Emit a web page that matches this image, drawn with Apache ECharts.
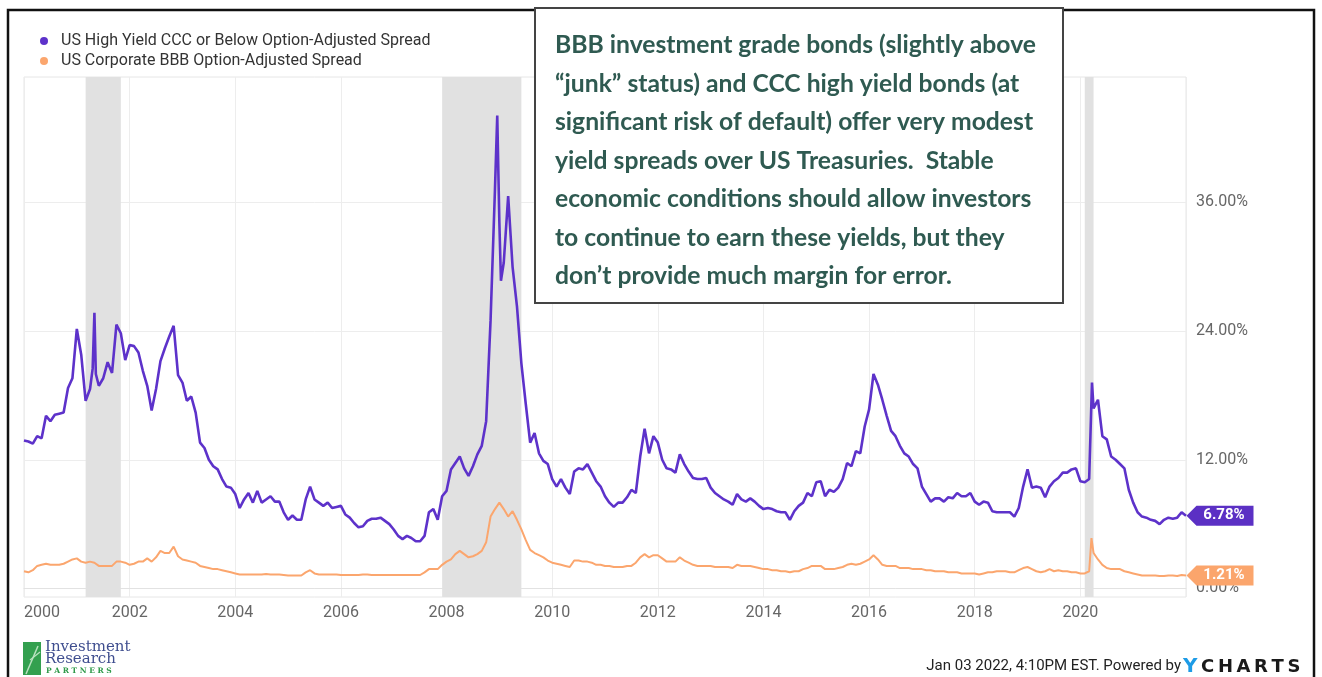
<!DOCTYPE html>
<html>
<head>
<meta charset="utf-8">
<title>US High Yield CCC vs US Corporate BBB Option-Adjusted Spread</title>
<script src="https://cdn.jsdelivr.net/npm/echarts@6/dist/echarts.min.js"></script>
<style>
  html, body { margin: 0; padding: 0; background: #fff; }
  #chart { width: 1322px; height: 677px; }
</style>
</head>
<body>
<div id="chart"></div>
<script>
// month-start readings (percent), Jan 2000 .. Jan 2022
const firstYear = 2000

const cccSpread = [
  13.8, 13.7, 13.5, 14.2, 14.0, 16.1, 15.6, 16.2, 16.3, 16.4, 18.7, 19.6, // 2000
  24.2, 21.8, 17.5, 18.6, 25.7, 18.9, 19.6, 21.1, 20.1, 24.6, 23.8, 21.3, // 2001
  22.7, 22.6, 22.0, 20.3, 18.9, 16.6, 18.6, 21.2, 22.4, 23.5, 24.5, 19.9, // 2002
  19.2, 17.5, 17.9, 16.4, 13.6, 13.1, 12.0, 11.4, 11.1, 10.2, 9.5, 9.4,   // 2003
  8.8, 7.5, 8.3, 8.9, 8.0, 9.1, 8.0, 8.3, 8.6, 8.1, 8.1, 7.1,             // 2004
  6.4, 6.8, 6.4, 6.4, 8.3, 9.5, 8.3, 8.0, 7.7, 8.0, 7.5, 7.6,             // 2005
  7.7, 6.9, 6.6, 6.1, 5.7, 5.8, 6.3, 6.5, 6.5, 6.6, 6.3, 6.0,             // 2006
  5.5, 4.9, 4.6, 4.9, 4.7, 4.4, 4.4, 4.9, 7.1, 7.4, 6.4, 8.6,             // 2007
  9.1, 11.1, 11.7, 12.3, 11.2, 10.5, 11.4, 12.5, 13.3, 15.6, 25.0, 37.2,  // 2008
  34.1, 30.4, 36.6, 30.0, 26.3, 21.0, 17.2, 13.6, 14.5, 12.6, 11.9, 11.6, // 2009
  10.2, 9.5, 10.2, 9.4, 8.8, 10.9, 11.2, 11.1, 11.6, 10.8, 10.0, 9.5,     // 2010
  8.6, 8.0, 7.6, 8.0, 8.0, 8.5, 9.2, 8.9, 12.3, 14.9, 12.6, 14.2,         // 2011
  13.6, 12.0, 11.2, 11.1, 10.8, 12.5, 11.6, 10.9, 10.3, 10.2, 10.2, 10.3, // 2012
  9.4, 8.9, 8.6, 8.3, 8.1, 7.8, 8.8, 8.3, 8.1, 8.4, 8.1, 7.7,             // 2013
  7.4, 7.5, 7.4, 7.2, 7.1, 7.1, 6.4, 7.2, 7.7, 8.0, 8.9, 8.6,             // 2014
  9.9, 10.0, 8.6, 9.2, 9.0, 9.4, 10.2, 11.7, 11.4, 12.8, 12.6, 15.1,      // 2015
  16.7, 20.0, 19.0, 17.6, 16.1, 14.7, 14.2, 13.3, 12.6, 12.3, 11.6, 11.2, // 2016
  9.5, 8.8, 8.1, 8.4, 8.4, 8.1, 8.5, 8.4, 8.9, 8.6, 8.6, 8.9,             // 2017
  8.1, 7.8, 8.1, 8.0, 7.2, 7.1, 7.1, 7.1, 7.1, 6.7, 7.5, 9.5,             // 2018
  11.1, 9.4, 9.5, 9.4, 8.5, 9.5, 10.0, 10.3, 10.8, 10.8, 11.1, 11.2,      // 2019
  10.0, 9.9, 10.2, 16.8, 17.6, 14.2, 13.9, 12.3, 12.0, 11.6, 11.2, 9.2,   // 2020
  8.0, 7.1, 6.7, 6.6, 6.4, 6.3, 6.0, 6.4, 6.6, 6.5, 6.6, 7.1,             // 2021
  6.78                                                                   // 2022
]

const bbbSpread = [
  1.6, 1.5, 1.7, 2.1, 2.2, 2.3, 2.2, 2.2, 2.2, 2.3, 2.5, 2.7,             // 2000
  2.8, 2.5, 2.4, 2.5, 2.4, 2.1, 2.1, 2.1, 2.1, 2.5, 2.5, 2.4,             // 2001
  2.2, 2.3, 2.5, 2.5, 2.8, 2.5, 2.9, 3.5, 3.3, 3.3, 3.9, 3.0,             // 2002
  2.7, 2.6, 2.5, 2.4, 2.1, 2.0, 1.9, 1.8, 1.8, 1.7, 1.6, 1.5,             // 2003
  1.4, 1.3, 1.3, 1.3, 1.3, 1.3, 1.3, 1.35, 1.3, 1.3, 1.3, 1.25,           // 2004
  1.2, 1.2, 1.2, 1.2, 1.5, 1.7, 1.4, 1.3, 1.3, 1.3, 1.3, 1.3,             // 2005
  1.25, 1.25, 1.25, 1.25, 1.25, 1.3, 1.3, 1.25, 1.25, 1.25, 1.25, 1.25,   // 2006
  1.25, 1.25, 1.25, 1.25, 1.25, 1.25, 1.25, 1.5, 1.8, 1.8, 1.8, 2.2,      // 2007
  2.5, 2.7, 3.2, 3.5, 3.2, 2.9, 3.0, 3.2, 3.5, 4.3, 6.7, 7.4,             // 2008
  8.0, 7.4, 6.7, 7.2, 6.4, 5.5, 4.5, 3.6, 3.3, 3.1, 2.9, 2.6,             // 2009
  2.4, 2.3, 2.2, 2.1, 2.0, 2.6, 2.6, 2.5, 2.5, 2.4, 2.2, 2.2,             // 2010
  2.1, 2.1, 2.0, 2.0, 2.0, 2.1, 2.1, 2.4, 2.9, 3.2, 2.9, 3.1,             // 2011
  3.1, 2.8, 2.5, 2.5, 2.5, 2.9, 2.6, 2.4, 2.2, 2.1, 2.1, 2.1,             // 2012
  2.1, 2.0, 2.0, 2.0, 2.0, 1.9, 2.2, 2.1, 2.1, 2.1, 2.0, 1.9,             // 2013
  1.8, 1.8, 1.7, 1.7, 1.6, 1.6, 1.5, 1.6, 1.6, 1.8, 1.9, 2.1,             // 2014
  2.1, 2.1, 1.8, 1.8, 1.8, 1.9, 2.0, 2.2, 2.3, 2.2, 2.3, 2.5,             // 2015
  2.7, 3.1, 2.7, 2.2, 2.1, 2.1, 2.1, 1.9, 1.9, 1.9, 1.8, 1.8,             // 2016
  1.8, 1.7, 1.7, 1.6, 1.6, 1.6, 1.5, 1.5, 1.5, 1.4, 1.4, 1.4,             // 2017
  1.4, 1.3, 1.4, 1.5, 1.5, 1.6, 1.6, 1.6, 1.5, 1.5, 1.7, 1.9,             // 2018
  2.0, 1.8, 1.6, 1.5, 1.6, 1.8, 1.6, 1.7, 1.6, 1.6, 1.5, 1.5,             // 2019
  1.4, 1.4, 1.6, 3.3, 2.7, 2.2, 1.9, 1.8, 1.8, 1.8, 1.6, 1.5,             // 2020
  1.4, 1.3, 1.2, 1.2, 1.2, 1.2, 1.15, 1.15, 1.2, 1.2, 1.15, 1.25,         // 2021
  1.21                                                                   // 2022
]

// short spikes that fall between month starts: [decimal year, value]
const cccSpikes = [[2001.30, 20.5], [2001.36, 20.0], [2008.96, 44.1], [2009.03, 28.7], [2020.22, 19.2]]
const bbbSpikes = [[2020.21, 4.7]]

const recessions = [['2001-03', '2001-11'], ['2007-12', '2009-06'], ['2020-02', '2020-04']]

const yTicks = [0, 12, 24, 36]

const noteLines = [
  'BBB investment grade bonds (slightly above',
  '\u201cjunk\u201d status) and CCC high yield bonds (at',
  'significant risk of default) offer very modest',
  'yield spreads over US Treasuries.  Stable',
  'economic conditions should allow investors',
  'to continue to earn these yields, but they',
  'don\u2019t provide much margin for error.'
]

const cccName = 'US High Yield CCC or Below Option-Adjusted Spread'
const bbbName = 'US Corporate BBB Option-Adjusted Spread'
const purple = '#5d32ca'
const orange = '#fba66e'

const toYear = s => {
  const [y, m] = s.split('-').map(Number)
  return y + (m - 1) / 12
}
const toPoints = (monthly, spikes) =>
  monthly.map((v, i) => [firstYear + i / 12, v]).concat(spikes).sort((a, b) => a[0] - b[0])
const lastPoint = monthly => [firstYear + (monthly.length - 1) / 12, monthly[monthly.length - 1]]

const endTag = (monthly, color) => ({
  silent: true,
  symbol: 'path://M0,10L10,0L67,0L67,20L10,20Z',
  symbolSize: [67, 20],
  symbolOffset: [34, 0],
  symbolKeepAspect: false,
  itemStyle: { color: color },
  label: {
    show: true,
    position: 'inside',
    offset: [4, 0],
    color: '#fff',
    fontFamily: 'Roboto',
    fontWeight: 'bold',
    fontSize: 15,
    formatter: p => p.value.toFixed(2) + '%'
  },
  data: [{ coord: lastPoint(monthly), value: lastPoint(monthly)[1] }]
})

const chart = echarts.init(document.getElementById('chart'))

const option = {
  animation: false,
  backgroundColor: '#fff',
  textStyle: { fontFamily: 'Roboto' },
  legend: {
    data: [cccName, bbbName],
    orient: 'vertical',
    left: 35,
    top: 28,
    itemGap: 4,
    itemWidth: 24,
    itemHeight: 8,
    icon: 'circle',
    textStyle: { fontSize: 16, color: '#333', fontFamily: 'Roboto', lineHeight: 16 }
  },
  grid: {
    left: 24,
    right: 136,
    top: 77,
    bottom: 80,
    show: true,
    borderColor: '#e6e6e6',
    borderWidth: 1
  },
  xAxis: {
    type: 'value',
    min: 2000,
    max: 2022,
    interval: 2,
    axisLine: { show: true, lineStyle: { color: '#e2e2e2' } },
    axisTick: { show: false },
    splitLine: { show: true, lineStyle: { color: '#ededed' } },
    axisLabel: {
      color: '#666',
      fontSize: 16,
      fontFamily: 'Roboto',
      margin: 8,
      alignMinLabel: 'left',
      formatter: v => (v < 2022 ? String(v) : '')
    }
  },
  yAxis: {
    type: 'value',
    position: 'right',
    min: -0.8,
    max: 47.7,
    axisLine: { show: false },
    axisTick: { show: false, customValues: yTicks },
    splitLine: { show: true, lineStyle: { color: '#ededed' } },
    axisLabel: {
      customValues: yTicks,
      color: '#666',
      fontSize: 16,
      fontFamily: 'Roboto',
      margin: 10,
      verticalAlign: 'middle',
      padding: [0, 0, 12, 0],
      formatter: v => v.toFixed(2) + '%'
    }
  },
  series: [
    {
      // recession shading only
      type: 'line',
      data: [],
      z: 1,
      silent: true,
      markArea: {
        silent: true,
        itemStyle: { color: '#e1e1e1' },
        data: recessions.map(r => [{ xAxis: toYear(r[0]) }, { xAxis: toYear(r[1]) }])
      }
    },
    {
      name: bbbName,
      type: 'line',
      data: toPoints(bbbSpread, bbbSpikes),
      showSymbol: false,
      symbol: 'none',
      color: orange,
      lineStyle: { color: orange, width: 2 },
      z: 3,
      markPoint: endTag(bbbSpread, '#fba56c')
    },
    {
      name: cccName,
      type: 'line',
      data: toPoints(cccSpread, cccSpikes),
      showSymbol: false,
      symbol: 'none',
      color: purple,
      lineStyle: { color: purple, width: 2.6 },
      z: 4,
      markPoint: endTag(cccSpread, '#5b30c4')
    }
  ],
  graphic: [
    // outer frame
    {
      type: 'rect',
      z: 50,
      silent: true,
      shape: { x: 8, y: 10, width: 1306, height: 700 },
      style: { fill: null, stroke: '#111', lineWidth: 2.5 }
    },
    // annotation box
    {
      type: 'rect',
      z: 100,
      silent: true,
      shape: { x: 535, y: 8, width: 528, height: 295 },
      style: { fill: '#fff', stroke: '#444', lineWidth: 2 }
    },
    {
      type: 'text',
      z: 101,
      silent: true,
      left: 555,
      top: 26,
      style: {
        text: noteLines.join('\n'),
        font: 'bold 24.7px Lato',
        lineHeight: 38.5,
        fill: '#2f5a51'
      }
    },
    // logo
    {
      type: 'rect',
      z: 60,
      silent: true,
      shape: { x: 23, y: 642, width: 18, height: 33 },
      style: { fill: '#33a04f' }
    },
    {
      type: 'polyline',
      z: 61,
      silent: true,
      shape: { points: [[26, 674], [38, 646]] },
      style: { stroke: '#b9e2c0', lineWidth: 1.5, fill: null }
    },
    {
      type: 'polyline',
      z: 61,
      silent: true,
      shape: { points: [[30, 660], [40, 652]] },
      style: { stroke: '#b9e2c0', lineWidth: 1.2, fill: null }
    },
    {
      type: 'text',
      z: 60,
      silent: true,
      left: 45,
      top: 640,
      style: { text: 'Investment\nResearch', font: '15px "DejaVu Serif"', lineHeight: 12, fill: '#3f4e8f' }
    },
    {
      type: 'text',
      z: 60,
      silent: true,
      left: 46,
      top: 667,
      style: { text: 'P A R T N E R S', font: 'bold 7.5px "DejaVu Serif"', fill: '#2f9a4a' }
    },
    // footer
    {
      type: 'text',
      z: 60,
      silent: true,
      right: 141,
      top: 659,
      style: { text: 'Jan 03 2022, 4:10PM EST. Powered by', font: '15px Roboto', fill: '#222' }
    },
    {
      type: 'text',
      z: 60,
      silent: true,
      left: 1183,
      top: 657,
      style: {
        text: '{y|Y}{c|\u2009C\u2009H\u2009A\u2009R\u2009T\u2009S}',
        rich: {
          y: { font: 'bold 20px "DejaVu Sans"', fill: '#1d9be6', color: '#1d9be6' },
          c: { font: 'bold 18px "DejaVu Sans"', fill: '#1a1a1a', color: '#1a1a1a' }
        }
      }
    }
  ]
}

chart.setOption(option)
window.addEventListener('resize', () => chart.resize())
</script>
</body>
</html>
